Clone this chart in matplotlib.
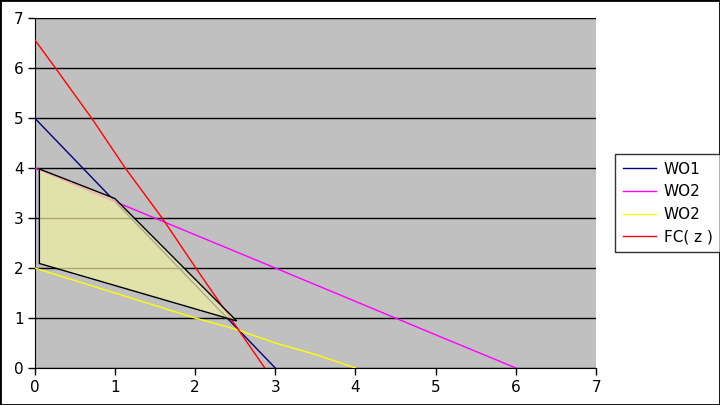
import matplotlib
import matplotlib.pyplot as plt
from matplotlib.patches import Polygon, Rectangle

matplotlib.rcParams.update({"font.family": "DejaVu Sans", "font.size": 11})

# series
wo1_x = [0, 3]
wo1_y = [5, 0]

wo2a_x = [0, 1, 3, 5.08, 6]
wo2a_y = [4, 3.33, 2, 0.61, 0]

wo2b_x = [0, 1, 2, 2.5, 3, 3.5, 4]
wo2b_y = [2, 1.5, 1.0, 0.78, 0.5, 0.27, 0]

fc_x = [0, 0.26, 0.71, 1.13, 1.59, 2.01, 2.44, 2.87]
fc_y = [6.57, 6, 5, 4, 3, 2, 1, 0]

# feasible region
region_x = [0.06, 0.06, 2.52, 1.0]
region_y = [3.98, 2.09, 0.94, 3.39]

labels = ["WO1", "WO2", "WO2", "FC( z )"]

fig = plt.figure(figsize=(7.2, 4.05), dpi=100)
ax = fig.add_axes([0.048, 0.0914, 0.78, 0.8642])
ax.set_facecolor("#c0c0c0")

ax.plot(wo1_x, wo1_y, color="#000080", lw=1, label=labels[0], zorder=3)
ax.plot(wo2a_x, wo2a_y, color="#ff00ff", lw=1, label=labels[1], zorder=3)
ax.plot(wo2b_x, wo2b_y, color="#ffff00", lw=1, label=labels[2], zorder=3)
ax.plot(fc_x, fc_y, color="#ff0000", lw=1, label=labels[3], zorder=3)

ax.add_patch(Polygon(list(zip(region_x, region_y)), closed=True,
                     facecolor=(0.94, 0.94, 0.63, 0.7), edgecolor="black",
                     lw=1, zorder=4))

ax.set_xlim(0, 7)
ax.set_ylim(0, 7)
ax.set_xticks(range(8))
ax.set_yticks(range(8))
ax.yaxis.grid(True, color="black", lw=1)
ax.set_axisbelow(True)
for s in ("top", "right"):
    ax.spines[s].set_visible(False)
ax.tick_params(direction="out", length=5, width=1, colors="black", pad=3)
ax.tick_params(axis="x", pad=4)

leg = fig.legend(loc="upper left", bbox_to_anchor=(615 / 720, 1 - 154 / 405),
                 frameon=True, fancybox=False, edgecolor="black",
                 borderaxespad=0, handlelength=2.2, handletextpad=0.5,
                 labelspacing=0.5, borderpad=0.5)
leg.get_frame().set_linewidth(1)

fig.patches.append(Rectangle((0, 0), 1, 1, transform=fig.transFigure,
                             fill=False, edgecolor="black", lw=2))

fig.savefig("out.png", dpi=100)
